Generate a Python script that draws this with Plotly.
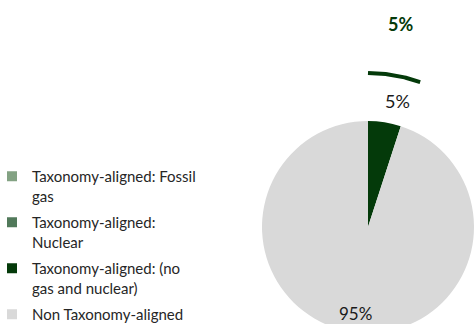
import math
import plotly.graph_objects as go

# ---- data ----
categories = [
    "Taxonomy-aligned: Fossil<br>gas",
    "Taxonomy-aligned:<br>Nuclear",
    "Taxonomy-aligned: (no<br>gas and nuclear)",
    "Non Taxonomy-aligned",
]
values = [0, 0, 5, 95]
colors = ["#83A283", "#51795A", "#043A0A", "#D9D9D9"]
highlight_label = "5%"

W, H = 482, 340
FONT = "Lato"

def px(x):
    return x / W

def py(y):
    return 1 - y / H

# pie geometry in pixels
cx, cy, r = 368, 227, 106

fig = go.Figure()
fig.add_trace(go.Pie(
    labels=categories,
    values=values,
    marker=dict(colors=colors, line=dict(width=0)),
    sort=False,
    direction="clockwise",
    rotation=0,
    textinfo="none",
    hoverinfo="label+percent",
    domain=dict(x=[px(cx - r), px(cx + r)], y=[py(cy + r), py(cy - r)]),
    showlegend=False,
))

# legend entries, one group each so the gap between entries can be set
for i, (lab, col) in enumerate(zip(categories, colors)):
    fig.add_trace(go.Scatter(
        x=[None], y=[None], mode="markers", name=lab,
        marker=dict(symbol="square", size=10, color=col),
        legendgroup=f"g{i}", showlegend=True, hoverinfo="skip",
    ))

# callout arc above the aligned slice
total = sum(values)
share = values[2] / total
ra = 154
n = 40
a_end = share * 2 * math.pi * 1.1
angs = [a_end * i / (n - 1) for i in range(n)]
fig.add_trace(go.Scatter(
    x=[cx + ra * math.sin(a) for a in angs],
    y=[cy - ra * math.cos(a) for a in angs],
    mode="lines",
    line=dict(color=colors[2], width=4),
    hoverinfo="skip",
    showlegend=False,
))

fig.update_xaxes(range=[0, W], visible=False, fixedrange=True)
fig.update_yaxes(range=[H, 0], visible=False, fixedrange=True)

annotations = [
    dict(x=px(400), y=py(24), text="<b>" + highlight_label + "</b>",
         font=dict(family=FONT, size=18, color=colors[2])),
    dict(x=px(397), y=py(101), text=f"{values[2] / total:.0%}",
         font=dict(family=FONT, size=18, color="#1a1a1a")),
    dict(x=px(355), y=py(313), text=f"{values[3] / total:.0%}",
         font=dict(family=FONT, size=17, color="#1a1a1a")),
]
for a in annotations:
    a.update(xref="paper", yref="paper", showarrow=False, xanchor="center", yanchor="middle")

fig.update_layout(
    width=W, height=H,
    margin=dict(l=0, r=0, t=0, b=0, autoexpand=False),
    paper_bgcolor="white", plot_bgcolor="white",
    font=dict(family=FONT, size=15, color="#262626"),
    annotations=annotations,
    legend=dict(
        x=px(-8), y=py(160), xanchor="left", yanchor="top",
        font=dict(family=FONT, size=15, color="#262626"),
        bgcolor="rgba(0,0,0,0)", traceorder="grouped", valign="top",
        tracegroupgap=4,
    ),
)

fig.write_html(
    "out.html",
    config={"displayModeBar": False},
    post_script=(
        "document.documentElement.style.overflow='hidden';"
        "document.body.style.overflow='hidden';"
        "document.body.style.margin='0';"
    ),
)
